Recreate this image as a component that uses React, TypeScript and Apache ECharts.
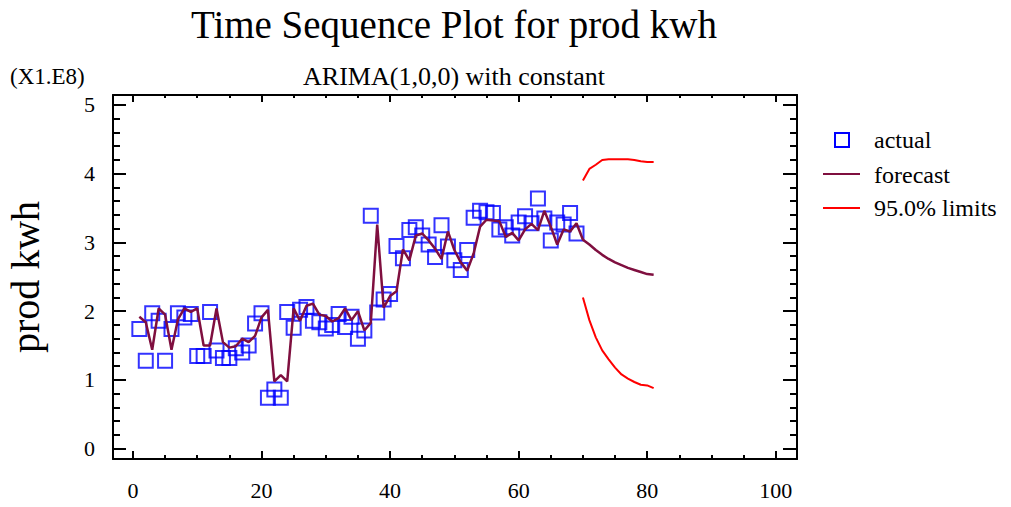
import React, { useEffect, useRef } from "react";
import * as echarts from "echarts";

// ---- data ----
const actual = [
  1.74, 1.28, 1.97, 1.86, 1.28, 1.74, 1.97, 1.91, 1.96, 1.35,
  1.35, 1.99, 1.43, 1.32, 1.32, 1.46, 1.40, 1.50, 1.82, 1.97,
  0.74, 0.86, 0.74, 1.99, 1.76, 2.02, 2.06, 1.86, 1.84, 1.75,
  1.80, 1.96, 1.77, 1.92, 1.60, 1.72, 3.39, 1.98, 2.17, 2.25,
  2.95, 2.77, 3.18, 3.22, 3.10, 2.97, 2.79, 3.25, 2.94, 2.74,
  2.60, 2.89, 3.36, 3.46, 3.44, 3.43, 3.19, 3.22, 3.10, 3.29,
  3.38, 3.28, 3.64, 3.35, 3.03, 3.29, 3.26, 3.43, 3.13,
];
const forecast = [
  1.92, 1.84, 1.44, 2.04, 1.95, 1.44, 1.88, 2.04, 1.99, 2.04,
  1.50, 1.50, 2.04, 1.55, 1.47, 1.49, 1.60, 1.55, 1.64, 1.91,
  2.02, 0.98, 1.07, 0.98, 2.04, 1.86, 2.08, 2.11, 1.95, 1.93,
  1.85, 1.90, 2.04, 1.87, 2.00, 1.72, 1.83, 3.26, 2.05, 2.22,
  2.29, 2.90, 2.74, 3.10, 3.13, 3.03, 2.91, 2.76, 3.16, 2.89,
  2.71, 2.59, 2.84, 3.23, 3.33, 3.32, 3.31, 3.08, 3.14, 3.03,
  3.19, 3.27, 3.18, 3.46, 3.23, 2.97, 3.19, 3.16, 3.28, 3.04,
  2.97, 2.89, 2.82, 2.76, 2.71, 2.67, 2.63, 2.60, 2.57, 2.54, 2.53,
];
const limitStart = 70;
const upperLimit = [3.90, 4.07, 4.13, 4.20, 4.21, 4.21, 4.21, 4.21, 4.20, 4.18, 4.17, 4.17];
const lowerLimit = [2.20, 1.87, 1.62, 1.43, 1.30, 1.18, 1.08, 1.02, 0.97, 0.93, 0.92, 0.88];

const xMajor = [0, 20, 40, 60, 80, 100];
const xMinor = [5, 10, 15, 25, 30, 35, 45, 50, 55, 65, 70, 75, 85, 90, 95];
const yMajor = [0, 1, 2, 3, 4, 5];
const yMinor = [
  0.2, 0.4, 0.6, 0.8, 1.2, 1.4, 1.6, 1.8, 2.2, 2.4, 2.6, 2.8,
  3.2, 3.4, 3.6, 3.8, 4.2, 4.4, 4.6, 4.8,
];
const X_MIN = -3.1;
const X_MAX = 103.3;
const Y_MIN = -0.15;
const Y_MAX = 5.145;

const FONT = "'Liberation Serif', 'Times New Roman', serif";
const BLUE = "#0000ff";
const MAROON = "#7f0f3f";
const RED = "#ff0000";

function xAxisDef(position: string, ticks: number[], len: number, showLine: boolean, labels: boolean) {
  return {
    type: "value",
    position,
    min: X_MIN,
    max: X_MAX,
    splitLine: { show: false },
    axisLine: { show: showLine, onZero: false, lineStyle: { color: "#000", width: 2 } },
    axisTick: { show: true, inside: true, length: len, customValues: ticks, lineStyle: { color: "#000", width: 2 } },
    axisLabel: labels
      ? { show: true, customValues: ticks, color: "#000", fontSize: 22, fontFamily: FONT, margin: 20 }
      : { show: false },
  };
}
function yAxisDef(position: string, ticks: number[], len: number, showLine: boolean, labels: boolean) {
  return {
    type: "value",
    position,
    min: Y_MIN,
    max: Y_MAX,
    splitLine: { show: false },
    axisLine: { show: showLine, onZero: false, lineStyle: { color: "#000", width: 2 } },
    axisTick: { show: true, inside: true, length: len, customValues: ticks, lineStyle: { color: "#000", width: 2 } },
    axisLabel: labels
      ? { show: true, customValues: ticks, color: "#000", fontSize: 22, fontFamily: FONT, margin: 18 }
      : { show: false },
  };
}

export default function App() {
  const ref = useRef<HTMLDivElement>(null);
  useEffect(() => {
    if (!ref.current) return;
    const chart = echarts.init(ref.current, null, { renderer: "svg" });
    const yName = yAxisDef("left", yMajor, 13, true, true) as any;
    yName.name = "prod kwh";
    yName.nameLocation = "middle";
    yName.nameGap = 68;
    yName.nameRotate = 90;
    yName.nameTextStyle = { fontSize: 40, fontFamily: FONT, color: "#000" };
    chart.setOption({
      animation: false,
      backgroundColor: "#fff",
      grid: { left: 113, right: 214, top: 95, bottom: 48, containLabel: false, outerBoundsMode: "none" },
      xAxis: [
        xAxisDef("bottom", xMajor, 8, true, true),
        xAxisDef("bottom", xMinor, 4, false, false),
        xAxisDef("top", xMajor, 7, true, false),
        xAxisDef("top", xMinor, 3, false, false),
      ],
      yAxis: [
        yName,
        yAxisDef("left", yMinor, 7, false, false),
        yAxisDef("right", yMajor, 14, true, false),
        yAxisDef("right", yMinor, 7, false, false),
      ],
      series: [
        {
          name: "actual",
          type: "scatter",
          symbol: "rect",
          symbolSize: 14,
          data: actual.map((v, i) => [i + 1, v]),
          itemStyle: { color: "transparent", borderColor: BLUE, borderWidth: 2 },
        },
        {
          name: "forecast",
          type: "line",
          showSymbol: false,
          data: forecast.map((v, i) => [i + 1, v]),
          lineStyle: { color: MAROON, width: 2.5 },
        },
        {
          name: "95.0% limits",
          type: "line",
          showSymbol: false,
          data: upperLimit.map((v, i) => [limitStart + i, v]),
          lineStyle: { color: RED, width: 2 },
        },
        {
          name: "95.0% limits lower",
          type: "line",
          showSymbol: false,
          data: lowerLimit.map((v, i) => [limitStart + i, v]),
          lineStyle: { color: RED, width: 2 },
        },
      ],
      graphic: [
        {
          type: "text",
          style: { text: "Time Sequence Plot for prod kwh", x: 454, y: 24, align: "center", verticalAlign: "middle", font: `39px ${FONT}`, fill: "#000" },
        },
        {
          type: "text",
          style: { text: "ARIMA(1,0,0) with constant", x: 454, y: 76, align: "center", verticalAlign: "middle", font: `26px ${FONT}`, fill: "#000" },
        },
        {
          type: "text",
          style: { text: "(X1.E8)", x: 10, y: 76, align: "left", verticalAlign: "middle", font: `23px ${FONT}`, fill: "#000" },
        },
        {
          type: "rect",
          shape: { x: 835, y: 133, width: 14, height: 14 },
          style: { fill: "none", stroke: BLUE, lineWidth: 2 },
        },
        {
          type: "line",
          shape: { x1: 823, y1: 174, x2: 860, y2: 174 },
          style: { stroke: MAROON, lineWidth: 2 },
        },
        {
          type: "line",
          shape: { x1: 823, y1: 208, x2: 860, y2: 208 },
          style: { stroke: RED, lineWidth: 2 },
        },
        {
          type: "text",
          style: { text: "actual", x: 874, y: 140, align: "left", verticalAlign: "middle", font: `24px ${FONT}`, fill: "#000" },
        },
        {
          type: "text",
          style: { text: "forecast", x: 874, y: 175, align: "left", verticalAlign: "middle", font: `24px ${FONT}`, fill: "#000" },
        },
        {
          type: "text",
          style: { text: "95.0% limits", x: 874, y: 208, align: "left", verticalAlign: "middle", font: `24px ${FONT}`, fill: "#000" },
        },
      ],
    });
    return () => chart.dispose();
  }, []);
  return (
    <div
      ref={ref}
      style={{ position: "absolute", left: 0, top: 0, width: 1011, height: 507 }}
    />
  );
}
